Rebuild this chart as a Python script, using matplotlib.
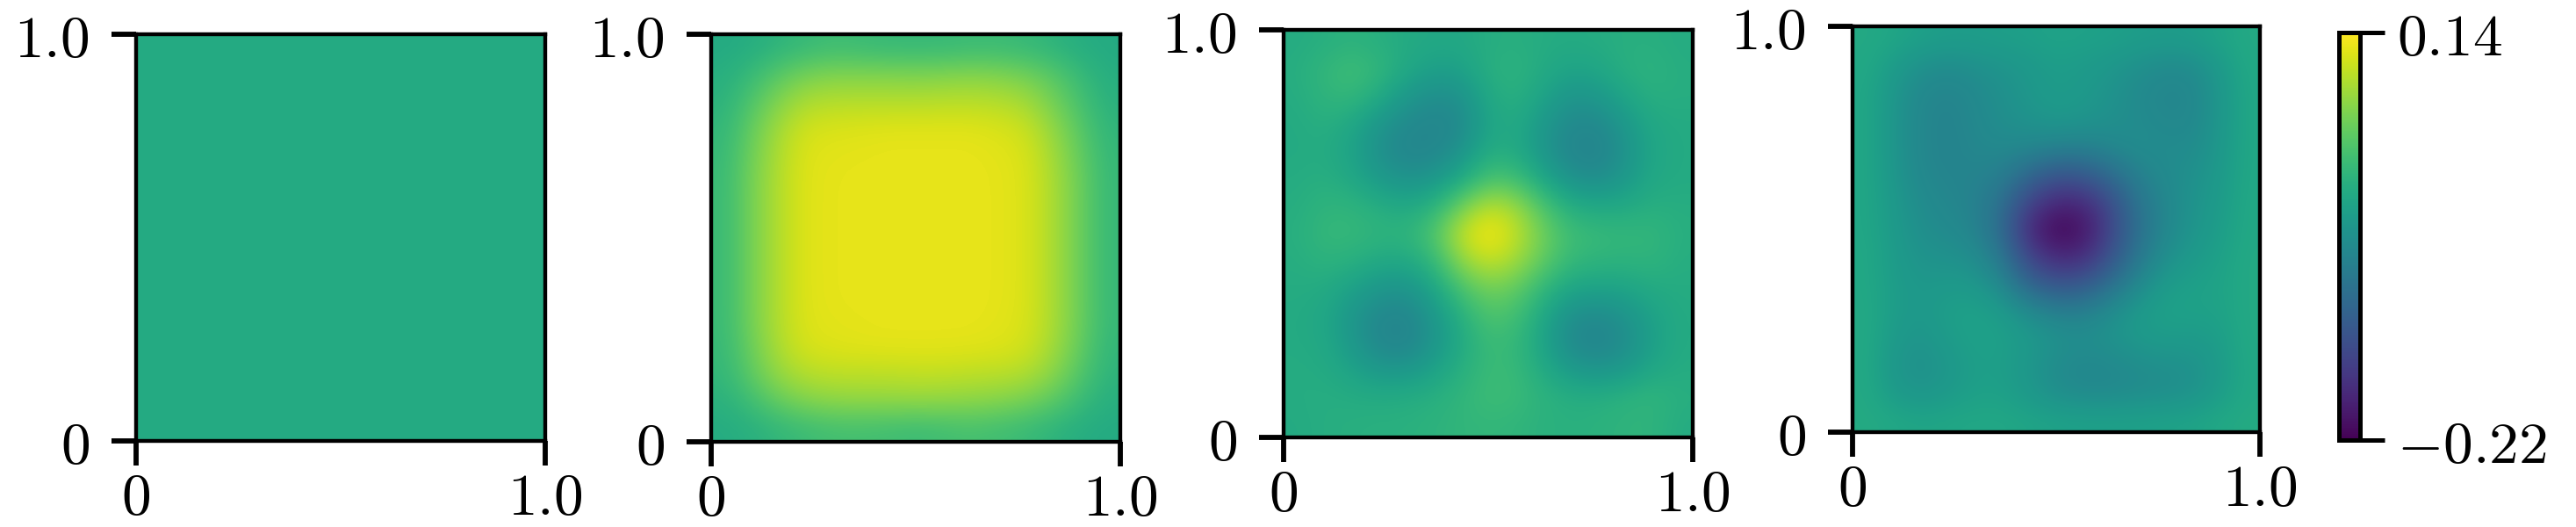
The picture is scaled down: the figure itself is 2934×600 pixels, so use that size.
import numpy as np
import matplotlib
matplotlib.use("Agg")
import matplotlib.pyplot as plt

plt.rcParams['mathtext.fontset'] = 'cm'
plt.rcParams['font.family'] = 'serif'

W, H = 2934, 600
vmin, vmax = -0.22, 0.14
tick_vals = [0, 1]
tick_text = ['$0$', '$1.0$']
cbar_ticks = [-0.22, 0.14]
cbar_text = ['$-0.22$', '$0.14$']

# panel 1 is flat
campo_1 = np.zeros((15, 15))

campo_2 = np.array([
    [.000, .004, .014, .022, .028, .025, .022, .022, .022, .025, .025, .022, .014, .004, .000],
    [.006, .024, .048, .066, .072, .072, .072, .070, .072, .075, .072, .064, .048, .024, .004],
    [.012, .042, .074, .096, .100, .100, .100, .100, .102, .102, .100, .092, .066, .036, .010],
    [.018, .056, .092, .116, .120, .122, .124, .124, .124, .124, .120, .112, .084, .048, .016],
    [.022, .062, .098, .122, .125, .126, .127, .127, .127, .127, .125, .120, .092, .056, .020],
    [.024, .066, .100, .123, .126, .127, .127, .127, .127, .127, .126, .121, .096, .060, .022],
    [.024, .066, .100, .123, .126, .127, .127, .127, .127, .127, .126, .121, .096, .060, .022],
    [.024, .066, .100, .123, .126, .127, .127, .127, .127, .127, .126, .121, .096, .060, .022],
    [.024, .066, .100, .123, .126, .127, .127, .127, .127, .127, .126, .121, .096, .060, .022],
    [.024, .066, .100, .123, .126, .127, .127, .127, .127, .127, .126, .121, .096, .060, .022],
    [.024, .066, .100, .122, .125, .126, .127, .127, .127, .127, .125, .120, .096, .060, .022],
    [.022, .060, .097, .118, .122, .124, .125, .125, .125, .124, .122, .116, .092, .056, .018],
    [.018, .052, .084, .100, .104, .104, .104, .106, .106, .104, .102, .098, .078, .044, .014],
    [.010, .030, .056, .072, .078, .080, .080, .082, .080, .078, .074, .066, .050, .026, .006],
    [.002, .008, .018, .026, .032, .032, .030, .026, .030, .034, .030, .024, .014, .004, .000],
])

campo_3 = np.array([
    [.002, .006, .012, .006, .000, -.004, -.004, .004, .006, .002, .000, .002, .006, .006, .002],
    [.004, .018, .028, .018, -.004, -.018, -.016, .006, .012, .000, -.012, -.008, .006, .012, .004],
    [.002, .014, .018, -.002, -.030, -.044, -.040, -.004, .008, -.012, -.034, -.030, -.010, .006, .004],
    [.000, .006, -.006, -.032, -.050, -.056, -.050, -.010, .000, -.028, -.050, -.052, -.030, -.004, .000],
    [.000, .002, -.012, -.040, -.056, -.054, -.036, .002, .000, -.030, -.056, -.060, -.038, -.008, .000],
    [.002, .006, -.004, -.024, -.036, -.030, -.004, .036, .032, -.006, -.036, -.044, -.028, -.004, .000],
    [.004, .014, .014, .004, -.004, .010, .060, .104, .088, .040, .004, -.004, -.002, .006, .004],
    [.006, .020, .020, .014, .014, .040, .106, .140, .108, .062, .028, .022, .018, .018, .006],
    [.004, .012, .008, -.002, -.004, .018, .078, .110, .090, .052, .020, .014, .012, .014, .004],
    [.002, .000, -.014, -.030, -.034, -.010, .036, .064, .054, .018, -.008, -.012, -.010, .000, .002],
    [.000, -.006, -.030, -.052, -.056, -.030, .006, .040, .032, -.004, -.040, -.048, -.036, -.014, .000],
    [.000, -.004, -.028, -.054, -.058, -.034, -.002, .024, .020, -.010, -.050, -.058, -.046, -.018, .000],
    [.002, .000, -.012, -.028, -.030, -.014, .006, .024, .022, .000, -.024, -.034, -.026, -.006, .002],
    [.002, .004, .002, .000, .002, .006, .016, .026, .024, .012, .004, .004, .010, .016, .006],
    [.000, .004, .006, .008, .008, .012, .016, .018, .016, .010, .008, .010, .014, .014, .002],
])

campo_4 = np.array([
    [-.002, -.008, -.016, -.020, -.020, -.018, -.016, -.012, -.014, -.016, -.020, -.022, -.020, -.012, -.002],
    [-.004, -.022, -.040, -.046, -.040, -.034, -.028, -.020, -.024, -.030, -.040, -.048, -.046, -.026, -.004],
    [-.006, -.030, -.052, -.058, -.050, -.040, -.030, -.022, -.026, -.036, -.048, -.056, -.054, -.032, -.006],
    [-.006, -.032, -.054, -.060, -.052, -.042, -.036, -.030, -.034, -.040, -.046, -.052, -.052, -.032, -.006],
    [-.006, -.032, -.054, -.060, -.054, -.050, -.054, -.062, -.064, -.054, -.044, -.046, -.046, -.030, -.006],
    [-.006, -.030, -.052, -.058, -.058, -.066, -.100, -.125, -.120, -.095, -.064, -.048, -.040, -.026, -.006],
    [-.006, -.026, -.046, -.054, -.060, -.088, -.146, -.180, -.178, -.136, -.082, -.054, -.036, -.024, -.004],
    [-.006, -.024, -.042, -.048, -.058, -.095, -.176, -.218, -.204, -.146, -.088, -.054, -.034, -.020, -.004],
    [-.004, -.022, -.036, -.038, -.044, -.078, -.146, -.180, -.176, -.128, -.078, -.042, -.026, -.016, -.002],
    [-.004, -.020, -.030, -.026, -.028, -.052, -.105, -.128, -.122, -.090, -.052, -.024, -.016, -.012, -.002],
    [-.002, -.020, -.028, -.018, -.014, -.024, -.048, -.066, -.066, -.046, -.026, -.014, -.014, -.014, -.002],
    [-.002, -.024, -.034, -.022, -.014, -.016, -.026, -.038, -.042, -.036, -.026, -.022, -.024, -.020, -.002],
    [-.002, -.030, -.040, -.030, -.018, -.018, -.030, -.046, -.052, -.050, -.044, -.040, -.038, -.024, -.004],
    [-.002, -.024, -.034, -.026, -.016, -.016, -.028, -.044, -.050, -.050, -.046, -.044, -.038, -.022, -.004],
    [.000, -.006, -.010, -.008, -.006, -.006, -.010, -.014, -.016, -.016, -.016, -.014, -.012, -.006, .000],
])

campos = [campo_1, campo_2, campo_3, campo_4]
# caixas em pixels: esquerda, direita, topo, base
caixas = [(155, 621, 39, 502), (810, 1276, 39, 503), (1462, 1928, 34, 498), (2110, 2574, 30, 492)]


def eixo_px(fig, esq, dir_, topo, base):
    return fig.add_axes([esq / W, 1 - base / H, (dir_ - esq) / W, (base - topo) / H])


fig = plt.figure(figsize=(W / 300, H / 300), dpi=300)

for campo, caixa in zip(campos, caixas):
    ax = eixo_px(fig, *caixa)
    im = ax.imshow(campo, cmap='viridis', vmin=vmin, vmax=vmax, extent=[0, 1, 0, 1],
                   origin='upper', interpolation='bicubic', aspect='auto')
    ax.set_xticks(tick_vals)
    ax.set_xticklabels(tick_text)
    ax.set_yticks(tick_vals)
    ax.set_yticklabels(tick_text)
    ax.tick_params(length=6.8, width=1.4, labelsize=16.2)
    ax.tick_params(axis='x', pad=1.0)
    ax.tick_params(axis='y', pad=6.0)
    for s in ax.spines.values():
        s.set_linewidth(1.05)

cax = eixo_px(fig, 2664, 2688, 37, 501)
cb = fig.colorbar(im, cax=cax, ticks=cbar_ticks)
cb.ax.set_yticklabels(cbar_text)
cb.ax.tick_params(length=6.8, width=1.2, labelsize=16.2, pad=3.2)
cb.outline.set_linewidth(1.2)

fig.savefig('out.png', dpi=300)
